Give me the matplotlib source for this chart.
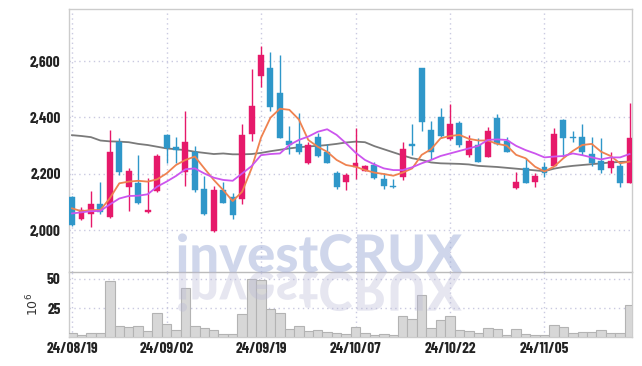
import numpy as np
import matplotlib
matplotlib.use("Agg")
import matplotlib.pyplot as plt
from matplotlib.textpath import TextPath
from matplotlib.patches import PathPatch
from matplotlib.font_manager import FontProperties
from matplotlib import transforms

dates = ["24/08/19", "24/08/20", "24/08/21", "24/08/22", "24/08/23", "24/08/26", "24/08/27", "24/08/28",
         "24/08/29", "24/08/30", "24/09/02", "24/09/03", "24/09/04", "24/09/05", "24/09/06", "24/09/09",
         "24/09/10", "24/09/11", "24/09/12", "24/09/13", "24/09/19", "24/09/20", "24/09/23", "24/09/24",
         "24/09/25", "24/09/26", "24/09/27", "24/09/30", "24/10/02", "24/10/04", "24/10/07", "24/10/08",
         "24/10/10", "24/10/11", "24/10/14", "24/10/15", "24/10/16", "24/10/17", "24/10/18", "24/10/21",
         "24/10/22", "24/10/23", "24/10/24", "24/10/25", "24/10/28", "24/10/29", "24/10/30", "24/10/31",
         "24/11/01", "24/11/04", "24/11/05", "24/11/06", "24/11/07", "24/11/08", "24/11/11", "24/11/12",
         "24/11/13", "24/11/14", "24/11/15", "24/11/18"]

opens = [2118, 2039, 2056, 2092, 2045, 2314, 2152, 2166, 2064, 2140,
         2337, 2296, 2207, 2278, 2146, 1998, 2142, 2116, 2109, 2340,
         2548, 2574, 2488, 2316, 2305, 2239, 2329, 2278, 2201, 2169,
         2225, 2210, 2231, 2180, 2157, 2189, 2304, 2574, 2355, 2400,
         2323, 2379, 2266, 2302, 2260, 2399, 2317, 2150, 2219, 2169,
         2225, 2228, 2391, 2331, 2329, 2270, 2245, 2219, 2227, 2168]
highs = [2122, 2083, 2140, 2169, 2355, 2326, 2219, 2266, 2184, 2269,
         2340, 2329, 2423, 2300, 2192, 2157, 2169, 2130, 2376, 2571,
         2654, 2633, 2622, 2370, 2415, 2314, 2346, 2305, 2210, 2204,
         2361, 2231, 2243, 2201, 2180, 2314, 2375, 2576, 2387, 2432,
         2447, 2388, 2337, 2328, 2365, 2412, 2329, 2207, 2255, 2201,
         2240, 2361, 2393, 2352, 2376, 2329, 2326, 2276, 2237, 2452]
lows = [2015, 2036, 2012, 2057, 2042, 2195, 2069, 2092, 2059, 2136,
        2237, 2239, 2157, 2134, 2055, 1992, 2095, 2041, 2092, 2316,
        2509, 2423, 2326, 2269, 2270, 2234, 2261, 2237, 2145, 2142,
        2181, 2208, 2182, 2145, 2150, 2178, 2266, 2353, 2252, 2328,
        2321, 2294, 2260, 2241, 2258, 2302, 2276, 2145, 2166, 2154,
        2190, 2226, 2260, 2312, 2266, 2227, 2201, 2201, 2154, 2166]
closes = [2018, 2071, 2092, 2065, 2276, 2207, 2210, 2095, 2071, 2263,
          2292, 2284, 2312, 2142, 2057, 2142, 2097, 2053, 2337, 2440,
          2622, 2438, 2328, 2302, 2276, 2302, 2263, 2239, 2154, 2195,
          2237, 2227, 2184, 2157, 2152, 2287, 2300, 2385, 2278, 2335,
          2376, 2302, 2316, 2243, 2352, 2304, 2278, 2169, 2168, 2192,
          2203, 2340, 2328, 2326, 2278, 2239, 2213, 2245, 2168, 2328]
volume = [3.4, 2.5, 4.2, 4.2, 48.3, 9.6, 8.7, 9.6, 5.3, 21.1,
          11.2, 6.2, 42.2, 9.6, 7.9, 6.2, 2.8, 2.8, 20.2, 49.7,
          49.2, 24.4, 21.1, 7.0, 9.6, 5.3, 6.2, 4.5, 3.4, 2.8,
          8.7, 3.7, 2.0, 2.8, 2.0, 18.0, 15.5, 36.5, 7.9, 14.6,
          18.0, 6.2, 5.3, 3.7, 7.9, 7.0, 2.0, 7.0, 2.8, 2.0,
          2.0, 10.4, 8.7, 3.7, 4.5, 4.5, 6.2, 3.7, 3.7, 27.3]
ma_short = [2077, 2067, 2071, 2071, 2113, 2166, 2172, 2175, 2172, 2180,
            2201, 2231, 2249, 2261, 2219, 2178, 2142, 2103, 2136, 2219,
            2328, 2399, 2431, 2427, 2393, 2320, 2296, 2278, 2249, 2231,
            2225, 2213, 2204, 2199, 2193, 2204, 2219, 2267, 2287, 2326,
            2334, 2338, 2324, 2318, 2318, 2306, 2300, 2267, 2255, 2225,
            2208, 2225, 2255, 2281, 2302, 2306, 2278, 2263, 2237, 2243]
ma_mid = [2059, 2063, 2067, 2068, 2091, 2112, 2121, 2122, 2127, 2154,
          2172, 2192, 2216, 2219, 2201, 2186, 2178, 2175, 2201, 2227,
          2266, 2270, 2272, 2302, 2320, 2332, 2349, 2358, 2338, 2308,
          2275, 2249, 2233, 2219, 2213, 2213, 2223, 2237, 2249, 2263,
          2272, 2281, 2290, 2299, 2320, 2322, 2320, 2299, 2284, 2272,
          2258, 2261, 2263, 2272, 2266, 2258, 2251, 2258, 2258, 2270]
ma_long = [2337, 2334, 2330, 2318, 2315, 2314, 2312, 2306, 2302, 2296,
           2290, 2287, 2284, 2278, 2274, 2270, 2272, 2269, 2269, 2270,
           2274, 2280, 2285, 2290, 2294, 2297, 2299, 2302, 2306, 2311,
           2314, 2312, 2298, 2287, 2276, 2265, 2255, 2249, 2240, 2237,
           2236, 2235, 2233, 2228, 2226, 2224, 2221, 2218, 2215, 2212,
           2209, 2218, 2224, 2228, 2231, 2234, 2237, 2240, 2242, 2243]

UP = "#e6196a"
DOWN = "#2f97c9"
GRID = "#c9c9e0"
SPINE = "#cccccc"

tick_fp = FontProperties(family=["Barlow Condensed", "DejaVu Sans"], weight=700, size=11)

x = np.arange(len(closes))
o = np.array(opens); c = np.array(closes)
up = c >= o
cols = np.where(up, UP, DOWN)

fig = plt.figure(figsize=(6.42, 3.66), dpi=100)
fig.patch.set_facecolor("white")
ax = fig.add_axes([0.1075, 0.2568, 0.8775, 0.7178])
axv = fig.add_axes([0.1075, 0.0779, 0.8775, 0.1789], sharex=ax)
axv.set_facecolor("none")

# candles
ax.vlines(x, lows, highs, colors=cols, linewidth=1.0, zorder=3)
ax.bar(x, np.abs(c - o), bottom=np.minimum(o, c), width=0.63, color=cols,
       edgecolor=cols, linewidth=0.3, zorder=4)

ax.plot(x, ma_long, color="#7a7a7a", lw=1.3, zorder=2)
ax.plot(x, ma_short, color="#ef8250", lw=1.3, zorder=5)
ax.plot(x, ma_mid, color="#cc55ee", lw=1.3, zorder=5)

ax.set_ylim(1851, 2784)
ax.set_xlim(-0.32, 59.3)
ax.set_yticks([2000, 2200, 2400, 2600])
ax.set_yticklabels(["2,000", "2,200", "2,400", "2,600"])

# volume
axv.bar(x, volume, width=1.0, color="#d7d7d7", edgecolor="#b3b3b3", linewidth=0.8, zorder=3)
axv.set_ylim(0, 55.6)
axv.set_yticks([25, 50])
axv.set_ylabel(r"$10^6$", fontsize=9, color="#333333", labelpad=4)

ticks = list(range(0, len(dates), 10))
axv.set_xticks(ticks)
axv.set_xticklabels([dates[i] for i in ticks])
plt.setp(ax.get_xticklabels(), visible=False)

for a in (ax, axv):
    a.grid(True, color=GRID, linestyle=(0, (1, 2.5)), linewidth=1.0, zorder=0)
    a.set_axisbelow(True)
    a.tick_params(length=0, pad=6, colors="#222222")
    for s in a.spines.values():
        s.set_color(SPINE)
        s.set_linewidth(1.0)
    for lab in a.get_yticklabels() + a.get_xticklabels():
        lab.set_fontproperties(tick_fp)
ax.spines["bottom"].set_color("#bbbbbb")
axv.spines["top"].set_visible(False)
axv.tick_params(axis="x", pad=3)

# watermark with reflection
W, H = 642.0, 366.0
wm_fp = FontProperties(family=["Lato", "Liberation Sans"], weight="black")
tp = TextPath((0, 0), "investCRUX", prop=wm_fp, size=50)
ext = tp.get_extents()
x0, x1 = 178, 462
top, base = 233, 272
sx = (x1 - x0) / ext.width / W
sy = (base - top) / ext.height / H
t_main = transforms.Affine2D().translate(-ext.x0, 0).scale(sx, sy).translate(x0 / W, 1 - base / H) + fig.transFigure
t_refl = transforms.Affine2D().translate(-ext.x0, 0).scale(sx, -sy * 1.03).translate(x0 / W, 1 - base / H) + fig.transFigure
fig.add_artist(PathPatch(tp, facecolor="#a0aed8", edgecolor="none", alpha=0.5, transform=t_main, zorder=10))
fig.add_artist(PathPatch(tp, facecolor="#b8b8d6", edgecolor="none", alpha=0.35, transform=t_refl, zorder=10))

fig.savefig("out.png", dpi=100, facecolor="white")
